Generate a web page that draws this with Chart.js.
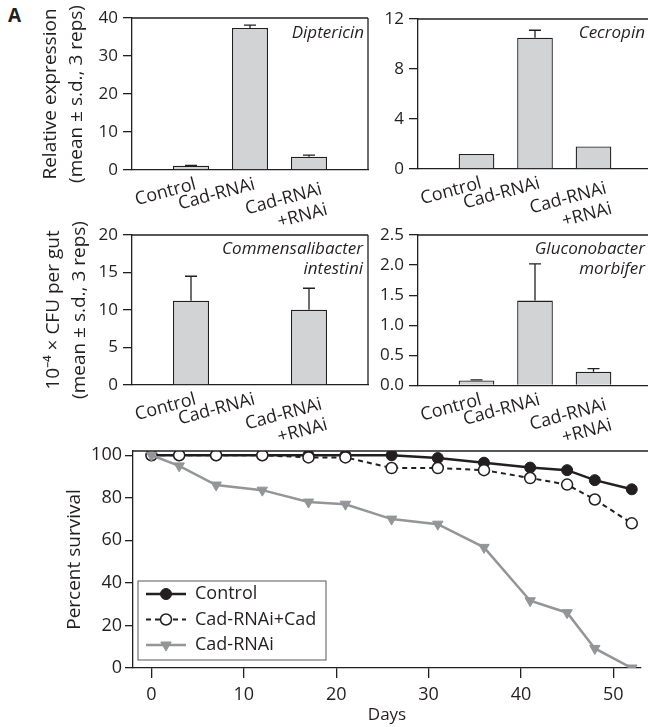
<!DOCTYPE html>
<html>
<head>
<meta charset="utf-8">
<title>Cad-RNAi</title>
<script src="https://cdn.jsdelivr.net/npm/chart.js@4.4.1/dist/chart.umd.min.js"></script>
<style>
  html, body { margin: 0; padding: 0; background: #fff; width: 648px; height: 727px; overflow: hidden; }
  body { position: relative; }
  .panel { position: absolute; }
  #panelLabel { position: absolute; left: 8px; top: 2px; font: bold 19px 'Open Sans', sans-serif; color: #231f20; }
</style>
</head>
<body>
<div id="panelLabel">A</div>
<div class="panel" style="left:0;top:0;width:375px;height:235px"><canvas id="dipt"></canvas></div>
<div class="panel" style="left:375px;top:0;width:285px;height:235px"><canvas id="cecr"></canvas></div>
<div class="panel" style="left:0;top:215px;width:375px;height:245px"><canvas id="comm"></canvas></div>
<div class="panel" style="left:375px;top:215px;width:285px;height:245px"><canvas id="gluc"></canvas></div>
<div class="panel" style="left:0;top:430px;width:648px;height:297px"><canvas id="surv"></canvas></div>
<script>
// ---- data ----
const groups = ['', 'Control', 'Cad-RNAi', ['Cad-RNAi', '+RNAi'], ''];

const diptericin = [null, 1.1, 37.4, 3.5, null];
const diptericinSd = [0, 0.1, 0.7, 0.4, 0];
const cecropin = [null, 1.2, 10.5, 1.8, null];
const cecropinSd = [0, 0, 0.6, 0, 0];
const commensalibacter = [null, 11.25, 0, 10.05, null];
const commensalibacterSd = [0, 3.25, 0, 2.85, 0];
const gluconobacter = [null, 0.083, 1.41, 0.23, null];
const gluconobacterSd = [0, 0.01, 0.61, 0.05, 0];

const days = [0, 3, 7, 12, 17, 21, 26, 31, 36, 41, 45, 48, 52];
const survControl = [100, 100, 100, 100, 100, 100, 100, 98.7, 96.5, 94.2, 93, 88.3, 84];
const survRescue = [100, 100, 100, 100, 99, 99, 94, 94, 93, 89.3, 86.2, 79.2, 68];
const survCadRNAi = [100, 95, 86, 83.6, 78, 77, 70, 67.6, 56.7, 31.6, 26, 9.2, 0];
const dayTicks = [0, 10, 20, 30, 40, 50];
const survTicks = [0, 20, 40, 60, 80, 100];

// ---- style ----
const ink = '#231f20';
const barFill = '#d1d3d4';
const grayLine = '#939598';
const fontFamily = "'Open Sans', sans-serif";
Chart.defaults.font.family = fontFamily;
Chart.defaults.color = ink;
Chart.defaults.animation = false;

// error bars above each bar
const errorBars = {
  id: 'errorBars',
  afterDatasetsDraw(chart, args, opts) {
    if (!opts.values) return;
    const ctx = chart.ctx;
    const yScale = chart.scales.y;
    const vals = chart.data.datasets[0].data;
    ctx.save();
    ctx.strokeStyle = ink;
    ctx.lineWidth = 1.3;
    chart.getDatasetMeta(0).data.forEach((bar, i) => {
      const v = vals[i];
      const e = opts.values[i];
      if (v == null || !e) return;
      const top = yScale.getPixelForValue(v + e);
      ctx.beginPath();
      ctx.moveTo(bar.x, bar.y);
      ctx.lineTo(bar.x, top);
      ctx.moveTo(bar.x - 6, top);
      ctx.lineTo(bar.x + 6, top);
      ctx.stroke();
    });
    ctx.restore();
  }
};

// slanted category labels under the bars
const catLabels = {
  id: 'catLabels',
  afterDraw(chart) {
    const xs = chart.scales.x;
    const ctx = chart.ctx;
    ctx.save();
    ctx.font = '18px ' + fontFamily;
    ctx.fillStyle = ink;
    ctx.textAlign = 'right';
    ctx.textBaseline = 'alphabetic';
    chart.data.labels.forEach((lab, i) => {
      if (!lab) return;
      const lines = Array.isArray(lab) ? lab : [lab];
      const multi = lines.length > 1;
      ctx.save();
      ctx.translate(xs.getPixelForTick(i) + (multi ? 14 : 6), xs.top + (multi ? 24 : 19));
      ctx.rotate(-15 * Math.PI / 180);
      lines.forEach((t, j) => ctx.fillText(t, 0, j * 21));
      ctx.restore();
    });
    ctx.restore();
  }
};

// frame lines (top / right)
const frame = {
  id: 'frame',
  afterDraw(chart, args, opts) {
    const { left, right, top, bottom } = chart.chartArea;
    const ctx = chart.ctx;
    ctx.save();
    ctx.strokeStyle = ink;
    ctx.lineWidth = 1.3;
    ctx.beginPath();
    ctx.moveTo(left, top);
    ctx.lineTo(opts.topTo === 'edge' ? chart.width : right, top);
    if (opts.right) {
      ctx.moveTo(right, top);
      ctx.lineTo(right, bottom);
    }
    ctx.stroke();
    ctx.restore();
  }
};

// italic gene / species name in the corner
const note = {
  id: 'note',
  afterDraw(chart, args, opts) {
    if (!opts.lines) return;
    const ctx = chart.ctx;
    const { right, top } = chart.chartArea;
    ctx.save();
    ctx.font = 'italic 17px ' + fontFamily;
    ctx.fillStyle = ink;
    ctx.textAlign = 'right';
    ctx.textBaseline = 'middle';
    opts.lines.forEach((t, i) => ctx.fillText(t, right - opts.dx, top + opts.dy + i * 20));
    ctx.restore();
  }
};

// legend box inside the survival plot
const survLegend = {
  id: 'survLegend',
  afterDraw(chart) {
    const ctx = chart.ctx;
    const { left, bottom } = chart.chartArea;
    const bx = left + 5, by = bottom - 87;
    ctx.save();
    ctx.strokeStyle = '#58595b';
    ctx.lineWidth = 1;
    ctx.strokeRect(bx, by, 188, 79);
    chart.data.datasets.forEach((ds, i) => {
      const y = by + 13 + i * 25.5;
      ctx.strokeStyle = ds.borderColor;
      ctx.lineWidth = ds.borderWidth;
      ctx.setLineDash(ds.borderDash || []);
      ctx.beginPath();
      ctx.moveTo(bx + 8, y);
      ctx.lineTo(bx + 48, y);
      ctx.stroke();
      ctx.setLineDash([]);
      ctx.fillStyle = ds.pointBackgroundColor;
      ctx.strokeStyle = ds.pointBorderColor;
      ctx.lineWidth = ds.pointBorderWidth;
      Chart.helpers.drawPoint(ctx, {
        pointStyle: ds.pointStyle, rotation: ds.pointRotation || 0,
        radius: ds.pointRadius, borderWidth: ds.pointBorderWidth
      }, bx + 28, y);
      ctx.fillStyle = ink;
      ctx.font = '18px ' + fontFamily;
      ctx.textAlign = 'left';
      ctx.textBaseline = 'middle';
      ctx.fillText(ds.label, bx + 57, y);
    });
    ctx.restore();
  }
};

function fixedArea(area) {
  return {
    padding: { top: area.top, right: area.width - area.right, left: 0, bottom: 0 }
  };
}

function makeBarChart(id, values, sd, cfg) {
  return new Chart(document.getElementById(id), {
    type: 'bar',
    data: {
      labels: groups,
      datasets: [{
        data: values,
        backgroundColor: barFill,
        borderColor: ink,
        borderWidth: 1.3,
        categoryPercentage: 1,
        barPercentage: 0.61
      }]
    },
    options: {
      responsive: true,
      maintainAspectRatio: false,
      layout: fixedArea(cfg.area),
      plugins: {
        legend: { display: false },
        tooltip: { enabled: false },
        errorBars: { values: sd },
        frame: { right: true },
        note: { lines: cfg.note, dx: cfg.noteDx, dy: cfg.noteDy }
      },
      scales: {
        x: {
          offset: false,
          grid: { display: false },
          border: { display: true, color: ink, width: 1.3 },
          ticks: { display: false, autoSkip: false },
          afterFit: (s) => { s.height = cfg.area.height - cfg.area.bottom; }
        },
        y: {
          min: 0,
          max: cfg.yMax,
          grid: { drawOnChartArea: false, drawTicks: true, tickLength: 9, color: ink, lineWidth: 1.3 },
          border: { display: true, color: ink, width: 1.3 },
          ticks: {
            stepSize: cfg.yStep,
            padding: 5,
            font: { size: 17 },
            color: ink,
            callback: cfg.fmt || ((v) => v)
          },
          title: cfg.title ? {
            display: true,
            text: cfg.title,
            font: { size: 19, lineHeight: 1.37 },
            color: ink,
            padding: { top: cfg.titlePad, bottom: 0 }
          } : { display: false },
          afterFit: (s) => { s.width = cfg.area.left; }
        }
      }
    },
    plugins: [errorBars, frame, note, catLabels]
  });
}

makeBarChart('dipt', diptericin, diptericinSd, {
  area: { width: 375, height: 235, left: 132, top: 18, right: 368, bottom: 170 },
  yMax: 40, yStep: 10,
  title: ['Relative expression', '(mean ± s.d., 3 reps)'], titlePad: 38,
  note: ['Diptericin'], noteDx: 4, noteDy: 15
});
makeBarChart('cecr', cecropin, cecropinSd, {
  area: { width: 285, height: 235, left: 43, top: 19, right: 277, bottom: 169 },
  yMax: 12, yStep: 4,
  note: ['Cecropin'], noteDx: 7, noteDy: 14
});
makeBarChart('comm', commensalibacter, commensalibacterSd, {
  area: { width: 375, height: 245, left: 132, top: 20, right: 368, bottom: 170 },
  yMax: 20, yStep: 5,
  title: ['10\u207B\u2074 \u00D7 CFU per gut', '(mean ± s.d., 3 reps)'], titlePad: 41,
  note: ['Commensalibacter', 'intestini'], noteDx: 5, noteDy: 14
});
makeBarChart('gluc', gluconobacter, gluconobacterSd, {
  area: { width: 285, height: 245, left: 43, top: 20, right: 277, bottom: 170.5 },
  yMax: 2.5, yStep: 0.5, fmt: (v) => v.toFixed(1),
  note: ['Gluconobacter', 'morbifer'], noteDx: 7, noteDy: 14
});

// ---- survival curves ----
const survArea = { width: 648, height: 297, left: 133, top: 21, right: 643, bottom: 238 };
const toXY = (arr) => days.map((d, i) => ({ x: d, y: arr[i] }));

new Chart(document.getElementById('surv'), {
  type: 'line',
  data: {
    datasets: [
      {
        label: 'Control',
        data: toXY(survControl),
        borderColor: ink,
        borderWidth: 2.5,
        pointStyle: 'circle',
        pointRadius: 5.5,
        pointBackgroundColor: ink,
        pointBorderColor: ink,
        pointBorderWidth: 1,
        order: 3
      },
      {
        label: 'Cad-RNAi+Cad',
        data: toXY(survRescue),
        borderColor: ink,
        borderWidth: 2,
        borderDash: [5, 4],
        pointStyle: 'circle',
        pointRadius: 5.5,
        pointBackgroundColor: '#fff',
        pointBorderColor: ink,
        pointBorderWidth: 1.5,
        order: 2
      },
      {
        label: 'Cad-RNAi',
        data: toXY(survCadRNAi),
        borderColor: grayLine,
        borderWidth: 2.5,
        pointStyle: 'triangle',
        pointRotation: 180,
        pointRadius: 6,
        pointBackgroundColor: grayLine,
        pointBorderColor: grayLine,
        pointBorderWidth: 1,
        order: 1
      }
    ]
  },
  options: {
    responsive: true,
    maintainAspectRatio: false,
    layout: fixedArea(survArea),
    plugins: {
      legend: { display: false },
      tooltip: { enabled: false },
      frame: { right: false, topTo: 'edge' }
    },
    scales: {
      x: {
        type: 'linear',
        min: -2,
        max: 53,
        grid: { drawOnChartArea: false, drawTicks: true, tickLength: 10, color: ink, lineWidth: 1.3 },
        border: { display: true, color: ink, width: 1.3 },
        afterBuildTicks: (s) => { s.ticks = dayTicks.map((v) => ({ value: v })); },
        ticks: { padding: 6, font: { size: 18 }, color: ink },
        title: { display: true, text: 'Days', font: { size: 17 }, color: ink, padding: { top: 0, bottom: 2 } },
        afterFit: (s) => { s.height = survArea.height - survArea.bottom; }
      },
      y: {
        min: 0,
        max: 102,
        grid: { drawOnChartArea: false, drawTicks: true, tickLength: 8, color: ink, lineWidth: 1.3 },
        border: { display: true, color: ink, width: 1.3 },
        afterBuildTicks: (s) => { s.ticks = survTicks.map((v) => ({ value: v })); },
        ticks: { padding: 3, font: { size: 18 }, color: ink },
        title: { display: true, text: 'Percent survival', font: { size: 19 }, color: ink, padding: { top: 63, bottom: 0 } },
        afterFit: (s) => { s.width = survArea.left; }
      }
    }
  },
  plugins: [frame, survLegend]
});
</script>
</body>
</html>
